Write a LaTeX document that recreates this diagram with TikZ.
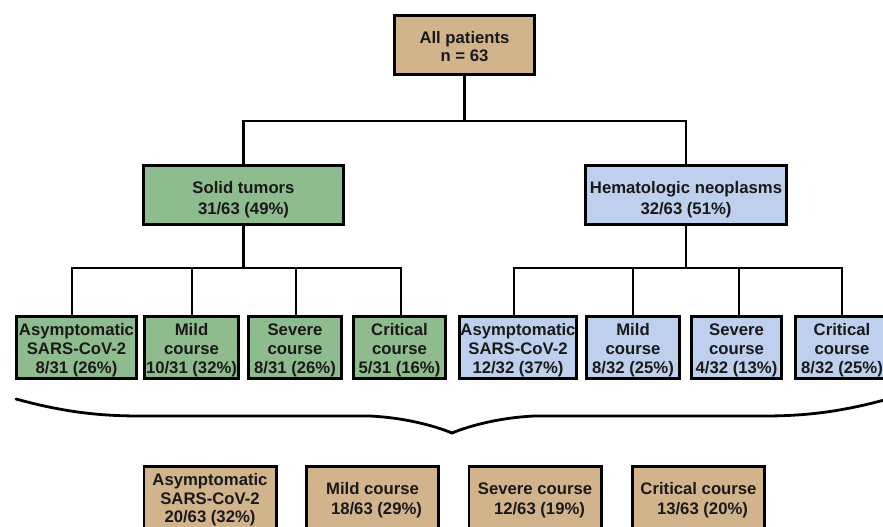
\documentclass[tikz,border=0pt]{standalone}
\usepackage{fontspec}
\setmainfont{Liberation Sans}
\definecolor{tanc}{RGB}{210,180,140}
\definecolor{greenc}{RGB}{143,188,143}
\definecolor{bluec}{RGB}{190,208,238}
\newcommand{\dnshift}[1]{\rule{0pt}{#1}}
\begin{document}
\begin{tikzpicture}[x=1pt,y=-1pt,
  box/.style={draw=black,line width=2.6pt,inner sep=0pt,align=center,
    font=\fontsize{16.7}{19}\selectfont\bfseries,text=black!90},
  conn/.style={line width=2.4pt,line join=miter},
  brace/.style={line width=2.8pt,line cap=round}]
\useasboundingbox (0,0) rectangle (883,527);
\clip (0,0) rectangle (883,527);
\fill[white] (0,0) rectangle (883,527);
% top
\node[box,fill=tanc,minimum width=140pt,minimum height=59pt,font=\fontsize{16.7}{18}\selectfont\bfseries] (all) at (464.5,45) {\dnshift{16pt}All patients\\n = 63};
% level 2
\node[box,fill=greenc,minimum width=200pt,minimum height=59pt,font=\fontsize{16.7}{21}\selectfont\bfseries] (solid) at (243.5,195) {\dnshift{22pt}Solid tumors\\31/63 (49\%)};
\node[box,fill=bluec,minimum width=201pt,minimum height=59pt,font=\fontsize{16.7}{21}\selectfont\bfseries] (hemat) at (686,195) {\dnshift{21pt}Hematologic neoplasms\\32/63 (51\%)};
% level 3 left
\node[box,fill=greenc,minimum width=120pt,minimum height=62.5pt] (s1) at (76.5,347.5) {\dnshift{18pt}Asymptomatic\\SARS-CoV-2\\8/31 (26\%)};
\node[box,fill=greenc,minimum width=94pt,minimum height=62.5pt] (s2) at (191.5,347.5) {\dnshift{18pt}Mild\\course\\10/31 (32\%)};
\node[box,fill=greenc,minimum width=93pt,minimum height=62.5pt] (s3) at (295,347.5) {\dnshift{18pt}Severe\\course\\8/31 (26\%)};
\node[box,fill=greenc,minimum width=92pt,minimum height=62.5pt] (s4) at (399.5,347.5) {\dnshift{18pt}Critical\\course\\5/31 (16\%)};
% level 3 right
\node[box,fill=bluec,minimum width=117pt,minimum height=62.5pt] (h1) at (518,347.5) {\dnshift{18pt}Asymptomatic\\SARS-CoV-2\\12/32 (37\%)};
\node[box,fill=bluec,minimum width=93pt,minimum height=62.5pt] (h2) at (633,347.5) {\dnshift{18pt}Mild\\course\\8/32 (25\%)};
\node[box,fill=bluec,minimum width=90pt,minimum height=62.5pt] (h3) at (736.5,347.5) {\dnshift{18pt}Severe\\course\\4/32 (13\%)};
\node[box,fill=bluec,minimum width=93pt,minimum height=62.5pt] (h4) at (842,347.5) {\dnshift{18pt}Critical\\course\\8/32 (25\%)};
% bottom
\node[box,fill=tanc,minimum width=132.4pt,minimum height=67.4pt,font=\fontsize{16.7}{18.5}\selectfont\bfseries] (t1) at (210,500) {Asymptomatic\\SARS-CoV-2\\20/63 (32\%)};
\node[box,fill=tanc,minimum width=132.4pt,minimum height=67.4pt,font=\fontsize{16.7}{20}\selectfont\bfseries] (t2) at (372.5,500) {Mild course\\\hspace*{8pt}18/63 (29\%)};
\node[box,fill=tanc,minimum width=132.4pt,minimum height=67.4pt,font=\fontsize{16.7}{20}\selectfont\bfseries] (t3) at (535,500) {Severe course\\\hspace*{9pt}12/63 (19\%)};
\node[box,fill=tanc,minimum width=132.4pt,minimum height=67.4pt,font=\fontsize{16.7}{20}\selectfont\bfseries] (t4) at (698.5,500) {Critical course\\\hspace*{8pt}13/63 (20\%)};
% junctions
\coordinate (j1) at (464.5,121);
\coordinate (jl) at (243.5,121);
\coordinate (jr) at (686,121);
\coordinate (ja) at (243.5,268);
\coordinate (jb) at (686,268);
\coordinate (b1) at (72,268);
\coordinate (b2) at (192,268);
\coordinate (b3) at (296,268);
\coordinate (b4) at (401,268);
\coordinate (b5) at (514,268);
\coordinate (b6) at (633,268);
\coordinate (b7) at (739,268);
\coordinate (b8) at (842,268);
% connectors
\draw[conn] (all) -- (j1);
\draw[conn] (solid) -- (jl) -- (jr) -- (hemat);
\draw[conn] (solid) -- (ja);
\draw[conn] (hemat) -- (jb);
\draw[conn] (b1 |- s1.north) -- (b1) -- (b4) -- (b4 |- s4.north);
\draw[conn] (b2) -- (b2 |- s2.north);
\draw[conn] (b3) -- (b3 |- s3.north);
\draw[conn] (b5 |- h1.north) -- (b5) -- (b8) -- (b8 |- h4.north);
\draw[conn] (b6) -- (b6 |- h2.north);
\draw[conn] (b7) -- (b7 |- h3.north);
% brace
\draw[brace] (16,399) .. controls (60,411) and (95,416) .. (140,416) -- (370,416)
  .. controls (410,418) and (440,428) .. (452,433)
  .. controls (464,428) and (494,418) .. (534,416) -- (764,416)
  .. controls (809,416) and (844,411) .. (888,399);
\end{tikzpicture}
\end{document}
